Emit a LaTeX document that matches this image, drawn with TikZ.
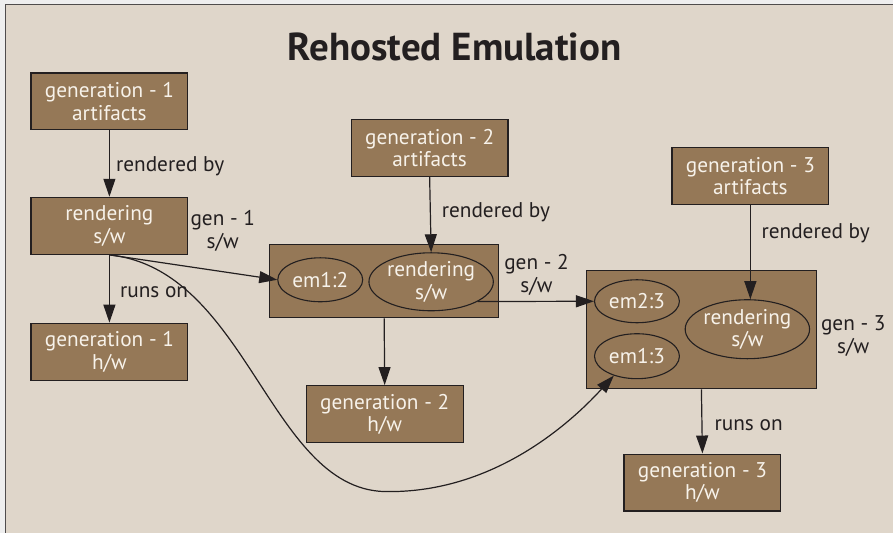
\documentclass[tikz,border=0pt]{standalone}
\usepackage{fontspec}
\setmainfont{PT Sans}
\usetikzlibrary{shapes.geometric,arrows.meta}
\definecolor{paper}{HTML}{DFD6CA}
\definecolor{margin}{HTML}{EEEEEE}
\definecolor{boxfill}{HTML}{957857}
\definecolor{ink}{HTML}{231F20}
\definecolor{boxtext}{HTML}{F7F2EA}
\tikzset{
  box/.style={draw=ink, line width=1.2pt, fill=boxfill, text=boxtext,
    minimum width=157pt, minimum height=57pt, inner sep=0pt, align=center,
    font=\fontsize{21.3}{22.5}\selectfont},
  holder/.style={draw=ink, line width=1.2pt, fill=boxfill, inner sep=0pt},
  emu/.style={ellipse, draw=ink, line width=1.1pt, fill=boxfill, text=boxtext,
    inner sep=0pt, align=center, font=\fontsize{21.3}{22.5}\selectfont},
  lbl/.style={text=ink, inner sep=0pt, align=center,
    font=\fontsize{21.3}{23}\selectfont},
  arr/.style={draw=ink, line width=1.2pt, -{Triangle[length=18pt,width=12pt]}},
}
\begin{document}
\begin{tikzpicture}[x=1pt, y=-1pt]
% page and frame
\fill[margin] (0,0) rectangle (894,533);
\fill[paper] (5.5,4.5) rectangle (894,533);
\draw[ink!80, line width=1.5pt] (5.5,533) -- (5.5,4.5) -- (894,4.5);
\useasboundingbox (0,0) rectangle (894,533);

% title
\node[text=ink, inner sep=0pt, font=\fontsize{39}{44}\selectfont\bfseries]
  (title) at (455,47) {Rehosted Emulation};

% generation 1
\node[box] (g1a) at (109.5,101.5) {generation - 1\\artifacts};
\node[box] (g1r) at (109.5,226) {rendering\\s/w};
\node[box] (g1h) at (109.5,352) {generation - 1\\h/w};
\node[lbl, anchor=base west] (l1rb) at (116,172) {rendered by};
\node[lbl, anchor=base west] (l1ro) at (120,298) {runs on};
\node[lbl] (l1sw) at (223,231) {gen - 1\\s/w};

% generation 2
\node[box] (g2a) at (430,148) {generation - 2\\artifacts};
\node[holder, minimum width=229pt, minimum height=73pt] (c2) at (384.5,281.5) {};
\node[emu, minimum width=85pt, minimum height=44pt] (em12) at (320.5,280) {em1:2};
\node[emu, minimum width=121pt, minimum height=58pt] (r2) at (431.5,282) {rendering\\s/w};
\node[box] (g2h) at (385,414.5) {generation - 2\\h/w};
\node[lbl, anchor=base west] (l2rb) at (442,218) {rendered by};
\node[lbl] (l2sw) at (537,275) {gen - 2\\s/w};

% generation 3
\node[box] (g3a) at (751,176) {generation - 3\\artifacts};
\node[holder, minimum width=230pt, minimum height=118pt] (c3) at (702,330) {};
\node[emu, minimum width=85pt, minimum height=43pt] (em23) at (637.5,301.5) {em2:3};
\node[emu, minimum width=85pt, minimum height=45pt] (em13) at (637.5,356.5) {em1:3};
\node[emu, minimum width=122pt, minimum height=59pt] (r3) at (748,329.5) {rendering\\s/w};
\node[box] (g3h) at (703,483) {generation - 3\\h/w};
\node[lbl, anchor=base west] (l3rb) at (762,239) {rendered by};
\node[lbl, anchor=base west] (l3ro) at (715,431) {runs on};
\node[lbl] (l3sw) at (854,336) {gen - 3\\s/w};

% connectors
\draw[arr] (g1a.south) -- (g1r.north);
\draw[arr] (g1r.south) -- (g1h.north);
\draw[arr] (g1r.south) -- (em12.west);
\draw[arr] (g1r.south) .. controls (250,270) and (270,495) .. (390,492)
  .. controls (490,492) and (565,430) .. (em13.220);
\draw[arr] (g2a.south) -- (r2.north);
\draw[arr] (r2.-23.7) -- (em23.west);
\draw[arr] (c2.south) -- (g2h.north);
\draw[arr] (g3a.south) -- (g3a.south |- r3.north);
\draw[arr] (c3.south) -- (g3h.north);
\end{tikzpicture}
\end{document}
